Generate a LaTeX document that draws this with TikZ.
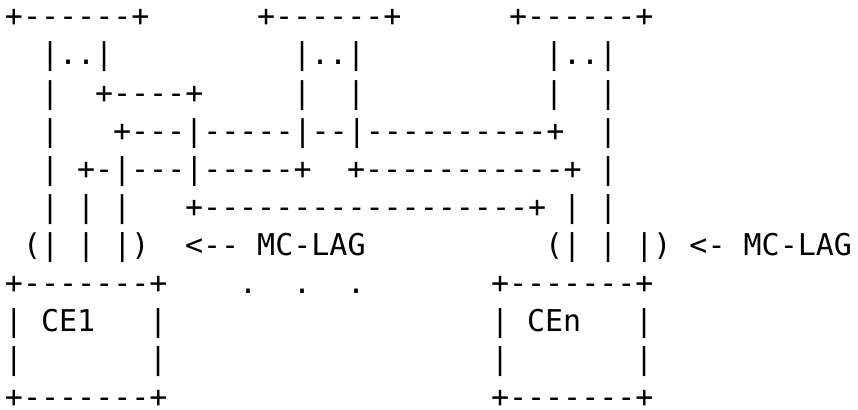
\documentclass[tikz,border=0pt]{standalone}
\usepackage{fontspec}
\setmonofont{DejaVu Sans Mono}
\newcommand\asciifont{\ttfamily\fontsize{30}{38}\selectfont}
\tikzset{
  txt/.style={inner sep=0pt, outer sep=0pt, anchor=base west, font=\asciifont, text=black},
}
\newcommand\arun[4]{\node[txt] (#1) at ({5pt+18pt*#2},{-27pt-38pt*#3}) {#4};}
\begin{document}
\begin{tikzpicture}
\fill[white] (0,0) rectangle (858pt,-409pt);
\useasboundingbox (0,0) rectangle (858pt,-409pt);
% row 0
\arun{a0}{0}{0}{+------+}
\arun{b0}{14}{0}{+------+}
\arun{c0}{28}{0}{+------+}
% row 1
\arun{a1}{2}{1}{|..|}
\arun{b1}{16}{1}{|..|}
\arun{c1}{30}{1}{|..|}
% row 2
\arun{a2}{2}{2}{|}
\arun{l2}{5}{2}{+----+}
\arun{b2l}{16}{2}{|}
\arun{b2r}{19}{2}{|}
\arun{c2l}{30}{2}{|}
\arun{c2r}{33}{2}{|}
% row 3
\arun{a3}{2}{3}{|}
\arun{l3}{6}{3}{+---|-----|--|----------+}
\arun{c3}{33}{3}{|}
% row 4
\arun{a4}{2}{4}{|}
\arun{l4}{4}{4}{+-|---|-----+}
\arun{m4}{19}{4}{+-----------+}
\arun{c4}{33}{4}{|}
% row 5
\arun{a5}{2}{5}{| | |}
\arun{l5}{10}{5}{+------------------+}
\arun{c5}{31}{5}{| |}
% row 6
\arun{a6}{1}{6}{(| | |)}
\arun{lag1}{10}{6}{<-- MC-LAG}
\arun{lagn}{30}{6}{(| | |) <- MC-LAG}
% row 7
\arun{ce1t}{0}{7}{+-------+}
\arun{d1}{13}{7}{.}
\arun{d2}{16}{7}{.}
\arun{d3}{19}{7}{.}
\arun{cent}{27}{7}{+-------+}
% row 8
\arun{ce1l8}{0}{8}{|}
\arun{ce1}{2}{8}{CE1}
\arun{ce1r8}{8}{8}{|}
\arun{cenl8}{27}{8}{|}
\arun{cen}{29}{8}{CEn}
\arun{cenr8}{35}{8}{|}
% row 9
\arun{ce1l9}{0}{9}{|}
\arun{ce1r9}{8}{9}{|}
\arun{cenl9}{27}{9}{|}
\arun{cenr9}{35}{9}{|}
% row 10
\arun{ce1b}{0}{10}{+-------+}
\arun{cenb}{27}{10}{+-------+}
\end{tikzpicture}
\end{document}
